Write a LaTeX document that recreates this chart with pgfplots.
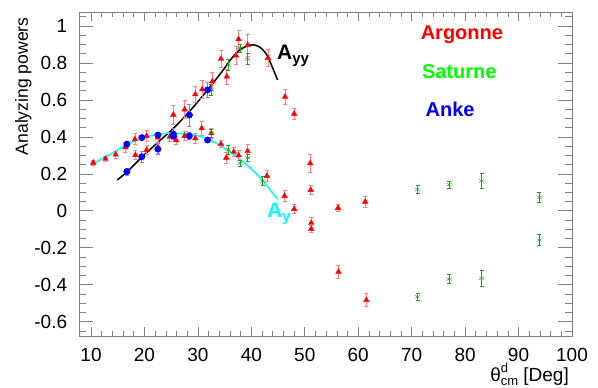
\documentclass[border=0pt]{standalone}
\usepackage{fontspec}
\setmainfont{Liberation Sans}
\usepackage{pgfplots}
\usepackage{pgfplotstable}
\pgfplotsset{compat=1.18}
\definecolor{satgreen}{rgb}{0,1,0}
\definecolor{satmark}{rgb}{0.15,0.62,0.15}
\definecolor{aycyan}{rgb}{0,1,1}

\pgfplotstableread{
x y e
10.4 0.260 0.015
12.7 0.281 0.015
14.6 0.304 0.02
16.4 0.343 0.025
18.2 0.387 0.03
18.3 0.302 0.025
20.4 0.405 0.03
20.4 0.329 0.025
22.5 0.397 0.03
22.5 0.342 0.03
24.7 0.400 0.025
25.4 0.520 0.05
25.9 0.382 0.02
27.5 0.548 0.05
27.5 0.405 0.025
29.5 0.392 0.025
29.5 0.630 0.045
30.7 0.446 0.04
30.8 0.657 0.05
32.5 0.419 0.025
32.7 0.700 0.05
34.3 0.361 0.02
34.3 0.822 0.045
35.3 0.287 0.03
35.4 0.726 0.04
36.7 0.319 0.025
37.1 0.840 0.05
37.6 0.300 0.025
37.6 0.928 0.05
39.3 0.323 0.035
39.3 0.897 0.06
42.9 0.188 0.03
43.1 0.827 0.045
46.2 0.080 0.03
46.3 0.617 0.04
48.0 0.525 0.03
48.0 0.010 0.025
51.0 0.257 0.05
51.1 0.113 0.025
51.2 -0.065 0.03
51.2 -0.098 0.02
56.2 0.015 0.02
56.3 -0.330 0.035
61.3 0.049 0.03
61.5 -0.483 0.035
}\argonne

\pgfplotstableread{
x y e
32.5 0.419 0.02
32.5 0.654 0.03
35.7 0.329 0.025
35.7 0.789 0.03
37.9 0.257 0.015
37.9 0.879 0.02
39.3 0.287 0.02
39.3 0.820 0.03
42.1 0.161 0.025
71.1 0.116 0.02
71.1 -0.465 0.02
77.0 0.141 0.02
77.0 -0.369 0.025
83.1 0.161 0.04
83.1 -0.365 0.045
93.9 0.073 0.025
93.9 -0.158 0.03
}\saturne

\pgfplotstableread{
x y e
16.7 0.212 0.02
16.7 0.361 0.015
19.5 0.396 0.01
19.5 0.293 0.03
22.5 0.410 0.01
22.5 0.334 0.03
25.4 0.415 0.03
25.4 0.405 0.02
28.4 0.405 0.02
28.4 0.518 0.06
31.8 0.383 0.01
31.8 0.654 0.04
}\anke

\begin{document}
\begin{tikzpicture}
\useasboundingbox (0,0) rectangle (598pt,388pt);
\begin{axis}[
 at={(79.3pt,52pt)}, anchor=south west,
 scale only axis, width=492.7pt, height=323.7pt,
 xmin=7.8, xmax=100, ymin=-0.677, ymax=1.074,
 xtick={10,20,30,40,50,60,70,80,90,100}, minor x tick num=4,
 ytick={-0.6,-0.4,-0.2,0,0.2,0.4,0.6,0.8,1},
 minor ytick={-0.65,-0.55,-0.5,-0.45,-0.35,-0.3,-0.25,-0.15,-0.1,-0.05,0.05,0.1,0.15,0.25,0.3,0.35,0.45,0.5,0.55,0.65,0.7,0.75,0.85,0.9,0.95,1.05},
 axis line style={black!50, line width=0.7pt},
 tick style={black!50, line width=0.7pt},
 xtick style={/pgfplots/major tick length=9pt,/pgfplots/minor tick length=4.5pt},
 ytick style={/pgfplots/major tick length=14pt,/pgfplots/minor tick length=7pt},
 tick align=inside,
 /pgf/number format/assume math mode=true,
 ticklabel style={font=\fontsize{19}{19}\selectfont, inner sep=0pt},
 xticklabel style={anchor=north, yshift=-12pt},
 yticklabel style={anchor=east, xshift=-12pt},
 xlabel={θ\rlap{\raisebox{9pt}{\fontsize{13}{13}\selectfont d}}\raisebox{-4pt}{\fontsize{13}{13}\selectfont cm} [Deg]},
 xlabel style={at={(axis description cs:0.994,-0.1545)}, anchor=south east, inner sep=0pt, font=\fontsize{19}{19}\selectfont},
 ylabel={Analyzing powers},
 ylabel style={at={(axis description cs:-0.1137,0.985)}, anchor=east, rotate=0, inner sep=0pt, font=\fontsize{17.6}{17.6}\selectfont},
 clip=false,
]
\addplot[black, line width=1.5pt, smooth] coordinates {
(14.9,0.167) (16.7,0.21) (19.5,0.29) (22.3,0.365) (25.4,0.446) (28.5,0.540) (31.8,0.654) (34.5,0.753) (36.3,0.825) (37.9,0.872) (39.8,0.897) (41.3,0.890) (42.9,0.843) (44.9,0.708)};
\addplot[aycyan, line width=1.5pt, smooth] coordinates {
(10.1,0.248) (12,0.282) (13.9,0.311) (16.7,0.360) (19.5,0.393) (22.9,0.416) (25.4,0.419) (28.5,0.414) (31.8,0.389) (35.4,0.331) (39.1,0.250) (42.2,0.160) (44.9,0.062)};

\addplot[only marks, mark=triangle*, mark size=3.2pt, color=red, mark options={fill=red},
 error bars/.cd, y dir=both, y explicit,
 error bar style={red!50, line width=0.7pt},
 error mark options={rotate=90, red!50, mark size=2pt, line width=0.7pt}]
 table[x=x, y=y, y error=e] {\argonne};
\addplot[only marks, mark=asterisk, mark size=3pt, color=satmark,
 error bars/.cd, y dir=both, y explicit,
 error bar style={satmark, line width=0.7pt},
 error mark options={rotate=90, satmark, mark size=2pt, line width=0.7pt}]
 table[x=x, y=y, y error=e] {\saturne};
\addplot[only marks, mark=*, mark size=3.2pt, color=blue, mark options={fill=blue},
 error bars/.cd, y dir=both, y explicit,
 error bar style={blue!50, line width=0.7pt},
 error mark options={rotate=90, blue!50, mark size=2pt, line width=0.7pt}]
 table[x=x, y=y, y error=e] {\anke};

\node[red, font=\fontsize{20}{20}\selectfont\bfseries] at (axis cs:79.4,0.951) {Argonne};
\node[satgreen, font=\fontsize{20}{20}\selectfont\bfseries] at (axis cs:78.9,0.753) {Saturne};
\node[blue, font=\fontsize{20}{20}\selectfont\bfseries] at (axis cs:77.2,0.549) {Anke};
\node[anchor=west, inner sep=0pt, font=\fontsize{21}{21}\selectfont\bfseries] at (axis cs:44.8,0.84) {A\raisebox{-4pt}{\fontsize{15}{15}\selectfont yy}};
\node[anchor=west, inner sep=0pt, aycyan, font=\fontsize{21}{21}\selectfont\bfseries] at (axis cs:42.9,-0.015) {A\raisebox{-4pt}{\fontsize{15}{15}\selectfont y}};
\end{axis}
\end{tikzpicture}
\end{document}
